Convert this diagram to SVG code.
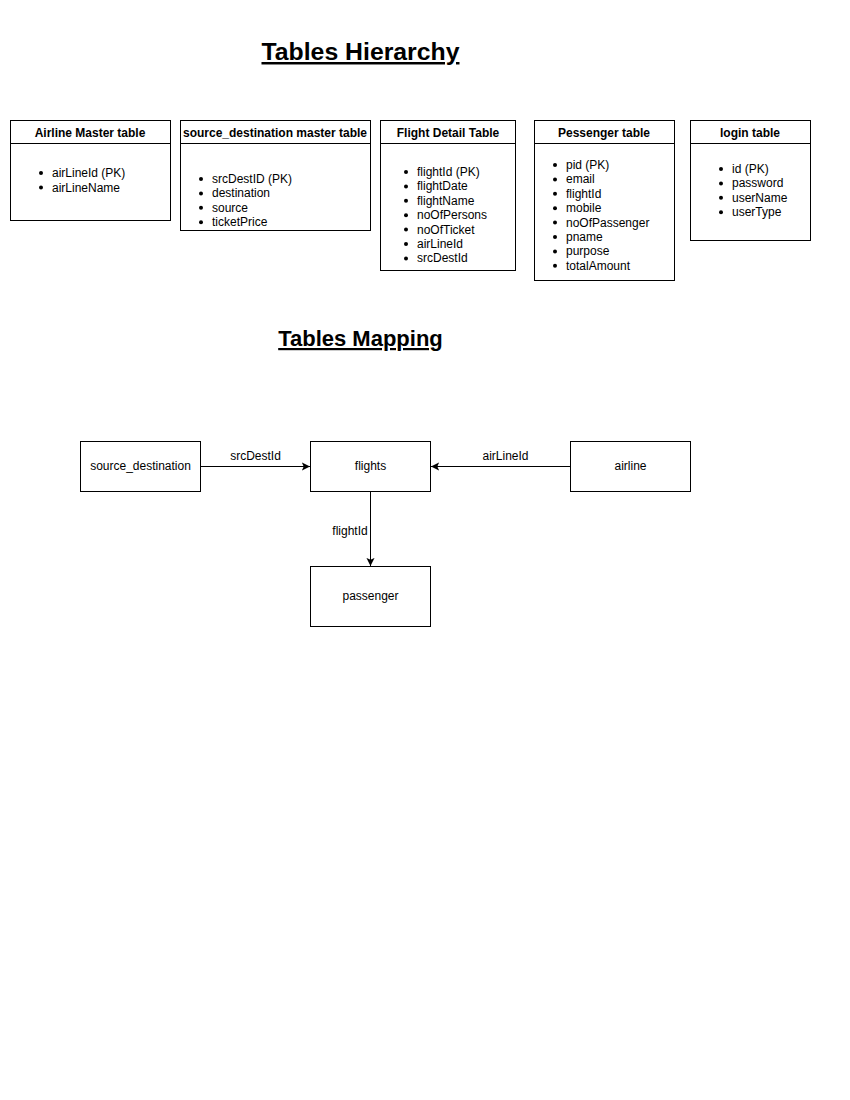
<svg xmlns="http://www.w3.org/2000/svg" width="850" height="1100" viewBox="0 0 850 1100">
<style>
text{font-family:"Liberation Sans",Arial,sans-serif;font-size:12px;fill:#000}
.box{fill:#fff;stroke:#000;stroke-width:1}
.hdr{font-weight:bold;text-anchor:middle}
.title{font-weight:bold;text-anchor:middle;text-decoration:underline}
.mid{text-anchor:middle}
.edge{stroke:#000;stroke-width:1;fill:none}
.dot{fill:#000}
</style>
<defs>
<marker id="arr" viewBox="0 0 10 10" refX="9" refY="5" markerWidth="9" markerHeight="9" markerUnits="userSpaceOnUse" orient="auto">
<path d="M0,0.5 L9,5 L0,9.5 L2,5 Z" fill="#000"/>
</marker>
</defs>
<rect width="850" height="1100" fill="#fff"/>
<text class="title" x="360.5" y="60" style="font-size:24.8px">Tables Hierarchy</text>
<text class="title" x="360.5" y="346" style="font-size:22px">Tables Mapping</text>

<g id="airline-table">
<rect class="box" x="10.5" y="120.5" width="160" height="100"/>
<line class="edge" x1="10.5" y1="143.5" x2="170.5" y2="143.5"/>
<text class="hdr" x="90" y="137">Airline Master table</text>
<circle class="dot" cx="41" cy="173" r="2"/><text x="52" y="177">airLineId (PK)</text>
<circle class="dot" cx="41" cy="187.5" r="2"/><text x="52" y="191.5">airLineName</text>
</g>

<g id="srcdest-table">
<rect class="box" x="180.5" y="120.5" width="190" height="110"/>
<line class="edge" x1="180.5" y1="143.5" x2="370.5" y2="143.5"/>
<text class="hdr" x="275" y="137">source_destination master table</text>
<circle class="dot" cx="201" cy="179" r="2"/><text x="212" y="183">srcDestID (PK)</text>
<circle class="dot" cx="201" cy="193.4" r="2"/><text x="212" y="197.4">destination</text>
<circle class="dot" cx="201" cy="207.8" r="2"/><text x="212" y="211.8">source</text>
<circle class="dot" cx="201" cy="222.2" r="2"/><text x="212" y="226.2">ticketPrice</text>
</g>

<g id="flight-table">
<rect class="box" x="380.5" y="120.5" width="135" height="150"/>
<line class="edge" x1="380.5" y1="143.5" x2="515.5" y2="143.5"/>
<text class="hdr" x="448" y="137">Flight Detail Table</text>
<circle class="dot" cx="406" cy="172" r="2"/><text x="417" y="176">flightId (PK)</text>
<circle class="dot" cx="406" cy="186.4" r="2"/><text x="417" y="190.4">flightDate</text>
<circle class="dot" cx="406" cy="200.8" r="2"/><text x="417" y="204.8">flightName</text>
<circle class="dot" cx="406" cy="215.2" r="2"/><text x="417" y="219.2">noOfPersons</text>
<circle class="dot" cx="406" cy="229.6" r="2"/><text x="417" y="233.6">noOfTicket</text>
<circle class="dot" cx="406" cy="244" r="2"/><text x="417" y="248">airLineId</text>
<circle class="dot" cx="406" cy="258.4" r="2"/><text x="417" y="262.4">srcDestId</text>
</g>

<g id="passenger-table">
<rect class="box" x="534.5" y="120.5" width="140" height="160"/>
<line class="edge" x1="534.5" y1="143.5" x2="674.5" y2="143.5"/>
<text class="hdr" x="604" y="137">Pessenger table</text>
<circle class="dot" cx="555" cy="165" r="2"/><text x="566" y="169">pid (PK)</text>
<circle class="dot" cx="555" cy="179.4" r="2"/><text x="566" y="183.4">email</text>
<circle class="dot" cx="555" cy="193.8" r="2"/><text x="566" y="197.8">flightId</text>
<circle class="dot" cx="555" cy="208.2" r="2"/><text x="566" y="212.2">mobile</text>
<circle class="dot" cx="555" cy="222.6" r="2"/><text x="566" y="226.6">noOfPassenger</text>
<circle class="dot" cx="555" cy="237" r="2"/><text x="566" y="241">pname</text>
<circle class="dot" cx="555" cy="251.4" r="2"/><text x="566" y="255.4">purpose</text>
<circle class="dot" cx="555" cy="265.8" r="2"/><text x="566" y="269.8">totalAmount</text>
</g>

<g id="login-table">
<rect class="box" x="690.5" y="120.5" width="120" height="120"/>
<line class="edge" x1="690.5" y1="143.5" x2="810.5" y2="143.5"/>
<text class="hdr" x="750" y="137">login table</text>
<circle class="dot" cx="721" cy="169" r="2"/><text x="732" y="173">id (PK)</text>
<circle class="dot" cx="721" cy="183.4" r="2"/><text x="732" y="187.4">password</text>
<circle class="dot" cx="721" cy="197.8" r="2"/><text x="732" y="201.8">userName</text>
<circle class="dot" cx="721" cy="212.2" r="2"/><text x="732" y="216.2">userType</text>
</g>

<g id="connectors">
<line class="edge" x1="200.5" y1="466.5" x2="310" y2="466.5" marker-end="url(#arr)"/>
<text class="mid" x="255.5" y="460">srcDestId</text>
<line class="edge" x1="570.5" y1="466.5" x2="431" y2="466.5" marker-end="url(#arr)"/>
<text class="mid" x="505.5" y="460">airLineId</text>
<line class="edge" x1="370.5" y1="491.5" x2="370.5" y2="566" marker-end="url(#arr)"/>
<text class="mid" x="350" y="535">flightId</text>
</g>

<g id="node-source_destination">
<rect class="box" x="80.5" y="441.5" width="120" height="50"/>
<text class="mid" x="140.5" y="470">source_destination</text>
</g>
<g id="node-flights">
<rect class="box" x="310.5" y="441.5" width="120" height="50"/>
<text class="mid" x="370.5" y="470">flights</text>
</g>
<g id="node-airline">
<rect class="box" x="570.5" y="441.5" width="120" height="50"/>
<text class="mid" x="630.5" y="470">airline</text>
</g>
<g id="node-passenger">
<rect class="box" x="310.5" y="566.5" width="120" height="60"/>
<text class="mid" x="370.5" y="600">passenger</text>
</g>
</svg>
